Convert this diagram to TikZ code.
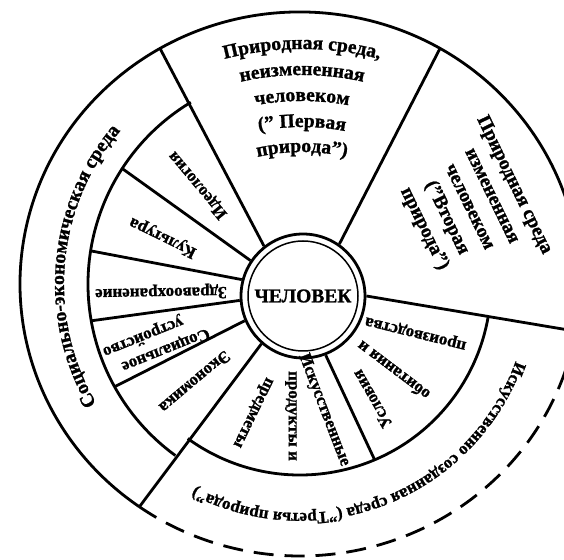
\documentclass[tikz,border=0pt]{standalone}
\usepackage{fontspec}
\setmainfont{Liberation Serif}[BoldFeatures={FakeBold=1.2}]
\usetikzlibrary{decorations.text}

\newcommand{\lblfont}{\bfseries\fontsize{17}{25}\selectfont}
\newcommand{\bigfont}{\bfseries\fontsize{19.5}{25}\selectfont}

\tikzset{
  wheel/.style={line width=2.8pt},
  rim/.style={line width=2.8pt,dash pattern=on 20pt off 11pt},
  lbl/.style={font=\lblfont,inner sep=0pt},
  arctext/.style={decorate,decoration={text along path,text align=center,text={|\lblfont|#1}}},
  bigarctext/.style={decorate,decoration={text along path,text align=center,text={|\bigfont|#1}}}
}

\begin{document}
\begin{tikzpicture}[x=1pt,y=1pt,wheel]
\useasboundingbox (0,0) rectangle (564,559);
\clip (0,0) rectangle (564,559);
\coordinate (o) at (300,275);
\coordinate (p) at (302,204);

\node (man) [circle,draw,minimum size=124pt,lbl,font=\bigfont] at (303,263) {ЧЕЛОВЕК};
\draw[line width=1.5pt] (man.center) circle (55pt);

\begin{scope}[shift={(o)}]
  \draw (-10:280pt and 272pt) arc[start angle=-10,end angle=235,x radius=280pt,y radius=272pt];
  \draw[rim] (235:280pt and 272pt) arc[start angle=235,end angle=350,x radius=280pt,y radius=272pt];
  \draw (121:212pt) arc[start angle=121,end angle=234,radius=212pt];
  \draw (234:191pt) arc[start angle=234,end angle=350,radius=191pt];
\end{scope}

\draw (man.128) -- ([shift={(o)}]120:280pt and 272pt);
\draw (man.55) -- ([shift={(o)}]60:280pt and 272pt);
\draw (man.0) -- ([shift={(o)}]-10:280pt and 272pt);
\draw (man.229) -- ([shift={(o)}]235:280pt and 272pt);
\draw (man.146) -- ([shift={(o)}]147:212pt);
\draw (man.165) -- ([shift={(o)}]171:212pt);
\draw (man.184) -- ([shift={(o)}]190:212pt);
\draw (man.203) -- ([shift={(o)}]209:212pt);
\draw (man.291) -- ([shift={(o)}]293:191pt);

\path[bigarctext={Природная среда,}] ([shift={(p)}]130:306pt) arc[start angle=130,end angle=50,radius=306pt];
\path[bigarctext={неизмененная}] ([shift={(p)}]130:280pt) arc[start angle=130,end angle=50,radius=280pt];
\path[bigarctext={человеком}] ([shift={(p)}]130:254pt) arc[start angle=130,end angle=50,radius=254pt];
\path[bigarctext={(" Первая}] ([shift={(p)}]130:228pt) arc[start angle=130,end angle=50,radius=228pt];
\path[bigarctext={природа")}] ([shift={(p)}]130:203pt) arc[start angle=130,end angle=50,radius=203pt];

\node (second) [lbl,font=\bigfont,rotate=-64,align=center] at (469,352) {Природная среда\\измененная\\человеком\\("Вторая\\природа")};

\path[bigarctext={Социально-экономическая среда}] ([shift={(o)}]220:236pt) arc[start angle=220,end angle=130,radius=236pt];
\path[arctext={Искусственно созданная среда ("Третья природа")}] ([shift={(o)}]-2:229pt) arc[start angle=-2,end angle=-135,radius=229pt];

\node (ideo) [lbl,rotate=130] at (198,374) {Идеология};
\node (cult) [lbl,rotate=154] at (163,322) {Культура};
\node (health) [lbl,rotate=181] at (161,267) {Здравоохранение};
\node (social) [lbl,rotate=202,align=left] at (156,217) {Социальное\\[-4.5pt]\hspace*{20pt}устройство};
\node (econ) [lbl,rotate=220] at (195,177) {Экономика};
\node (art1) [lbl,rotate=-69] at (324,149) {Искусственные};
\node (art2) [lbl,rotate=-90] at (291,143) {продукты и};
\node (art3) [lbl,rotate=-116] at (252,147) {предметы};
\node (cond1) [lbl,rotate=120] at (372,160) {Условия};
\node (cond2) [lbl,rotate=143] at (393,188) {обитания и};
\node (cond3) [lbl,rotate=166] at (416,227) {производства};
\end{tikzpicture}
\end{document}
